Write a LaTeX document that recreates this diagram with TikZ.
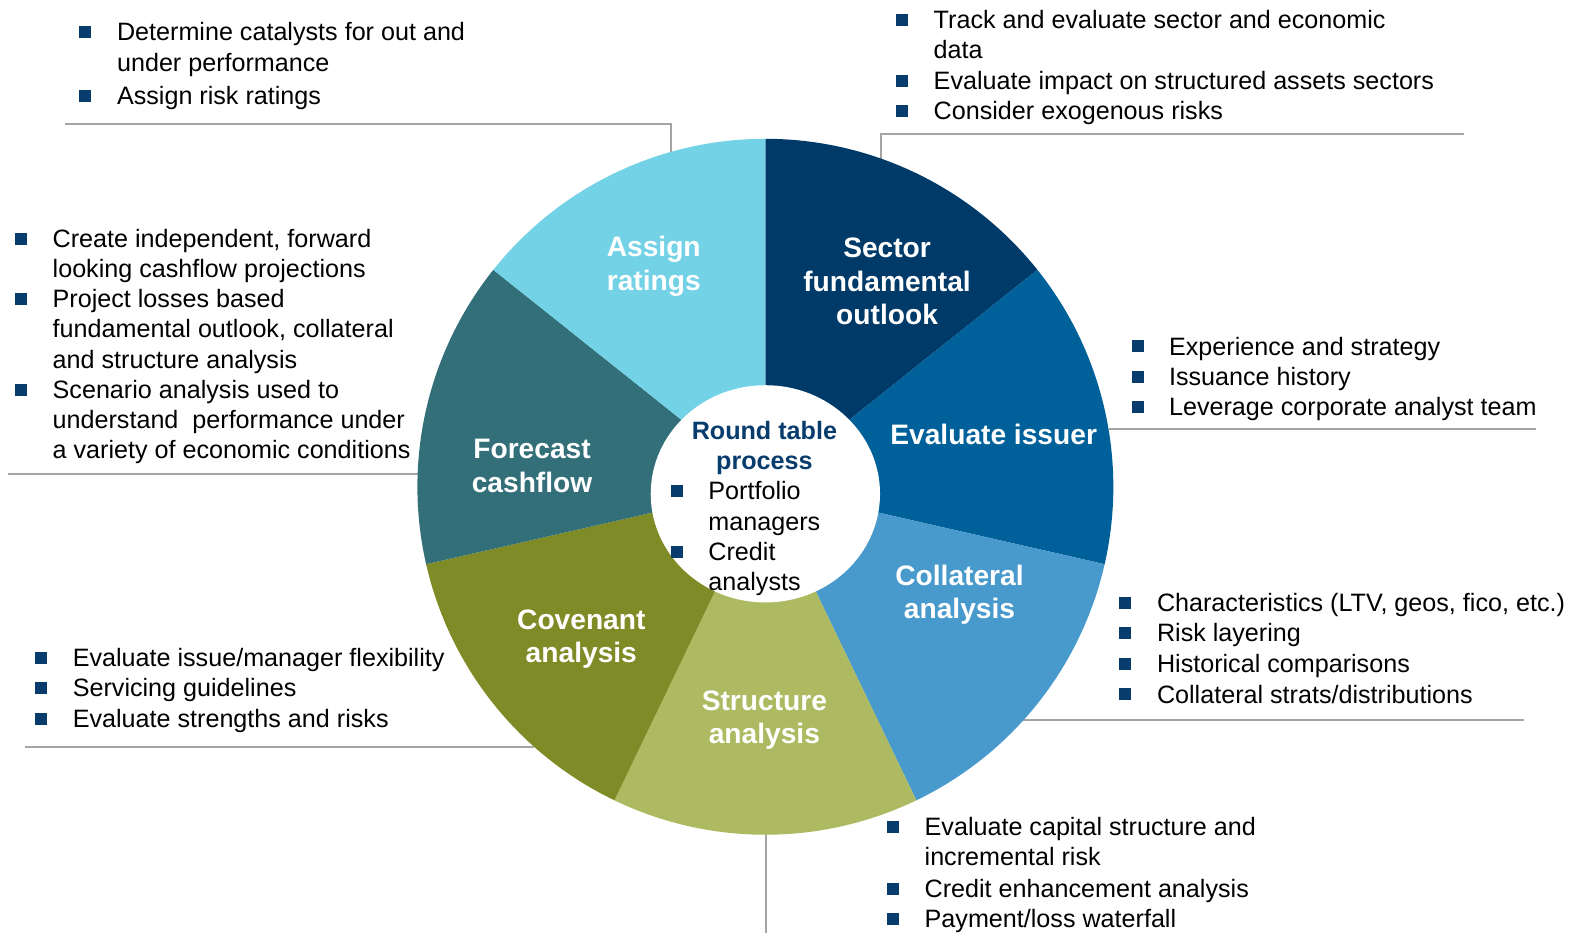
\documentclass[tikz,border=0pt]{standalone}
\usepackage{fontspec}
\setmainfont{Liberation Sans}
\definecolor{csec}{RGB}{0,58,104}
\definecolor{ciss}{RGB}{0,97,154}
\definecolor{ccol}{RGB}{72,153,204}
\definecolor{cstr}{RGB}{173,186,98}
\definecolor{ccov}{RGB}{127,139,38}
\definecolor{cfor}{RGB}{51,111,121}
\definecolor{cass}{RGB}{115,210,230}
\definecolor{navy}{RGB}{8,60,108}
\definecolor{leadgray}{RGB}{165,165,165}
\newcommand\txline[4]{\node[txt] (#1) at (#2,#3) {#4};}
\newcommand\buline[4]{\node[bul] (#1b) at (#2-31,#3-8.5) {};\node[txt] (#1) at (#2,#3) {#4};}
\newcommand\lbline[4]{\node[lbl] (#1) at (#2,#3) {#4};}
\begin{document}
\begin{tikzpicture}[x=0.50287pt,y=-0.50287pt,
  txt/.style={anchor=base west,inner sep=0,font=\fontsize{12.57}{15.1}\selectfont,text=black},
  bul/.style={fill=navy,minimum size=6pt,inner sep=0,draw=none,rectangle},
  lbl/.style={anchor=base,inner sep=0,font=\fontsize{14.08}{16.9}\selectfont\bfseries,text=white},
  ttl/.style={anchor=base,inner sep=0,font=\fontsize{12.57}{15.1}\selectfont\bfseries,text=navy},
  lead/.style={draw=leadgray,line width=1pt}]
\useasboundingbox (0,0) rectangle (1568,928);
% leader lines
\coordinate (a1) at (65,123); \coordinate (a2) at (667,123); \coordinate (a3) at (667,152);
\coordinate (b1) at (876,158); \coordinate (b2) at (876,133); \coordinate (b3) at (1456,133);
\coordinate (c1) at (1103,427); \coordinate (c2) at (1527,427);
\coordinate (d1) at (1017,716); \coordinate (d2) at (1515,716);
\coordinate (e1) at (762,829); \coordinate (e2) at (762,928);
\coordinate (f1) at (25,743); \coordinate (f2) at (531,743);
\coordinate (g1) at (8,471); \coordinate (g2) at (416,471);
\draw[lead] (a1) -- (a2) -- (a3);
\draw[lead] (b1) -- (b2) -- (b3);
\draw[lead] (c1) -- (c2);
\draw[lead] (d1) -- (d2);
\draw[lead] (e1) -- (e2);
\draw[lead] (f1) -- (f2);
\draw[lead] (g1) -- (g2);
% pie
\coordinate (C) at (761,484);
\foreach \s/\e/\c in {90/38.5714/csec, 38.5714/-12.8571/ciss, -12.8571/-64.2857/ccol,
  -64.2857/-115.7143/cstr, -115.7143/-167.1429/ccov, -167.1429/-218.5714/cfor, -218.5714/-270/cass}
  \fill[\c] (C) -- +(-\s:346) arc[start angle=-\s, end angle=-\e, radius=346] -- cycle;
\fill[white] (761,491) ellipse [x radius=114, y radius=108];
% segment labels
\lbline{as1}{650}{255}{Assign}
\lbline{as2}{650}{289}{ratings}
\lbline{se1}{882}{256}{Sector}
\lbline{se2}{882}{290}{fundamental}
\lbline{se3}{882}{323}{outlook}
\lbline{ev1}{988}{442}{Evaluate issuer}
\lbline{co1}{954}{582}{Collateral}
\lbline{co2}{954}{615}{analysis}
\lbline{st1}{760}{706}{Structure}
\lbline{st2}{760}{739}{analysis}
\lbline{cv1}{578}{626}{Covenant}
\lbline{cv2}{578}{659}{analysis}
\lbline{fo1}{529}{456}{Forecast}
\lbline{fo2}{529}{490}{cashflow}
% center
\node[ttl] (ct1) at (760,437) {Round table};
\node[ttl] (ct2) at (760,467) {process};
\buline{cb1}{704}{497}{Portfolio}
\txline{cb2}{704}{527}{managers}
\buline{cb3}{704}{557}{Credit}
\txline{cb4}{704}{587}{analysts}
% top-left
\buline{tl1}{116}{40}{Determine catalysts for out and}
\txline{tl2}{116}{71}{under performance}
\buline{tl3}{116}{104}{Assign risk ratings}
% top-right
\buline{tr1}{928}{28}{Track and evaluate sector and economic}
\txline{tr2}{928}{58}{data}
\buline{tr3}{928}{89}{Evaluate impact on structured assets sectors}
\buline{tr4}{928}{119}{Consider exogenous risks}
% left forecast
\buline{lf1}{52}{246}{Create independent, forward}
\txline{lf2}{52}{276}{looking cashflow projections}
\buline{lf3}{52}{306}{Project losses based}
\txline{lf4}{52}{336}{fundamental outlook, collateral}
\txline{lf5}{52}{366}{and structure analysis}
\buline{lf6}{52}{396}{Scenario analysis used to}
\txline{lf7}{52}{426}{understand\ \ performance under}
\txline{lf8}{52}{456}{a variety of economic conditions}
% right issuer
\buline{ri1}{1162}{353}{Experience and strategy}
\buline{ri2}{1162}{383}{Issuance history}
\buline{ri3}{1162}{413}{Leverage corporate analyst team}
% right collateral
\buline{rc1}{1150}{608}{Characteristics (LTV, geos, fico, etc.)}
\buline{rc2}{1150}{638}{Risk layering}
\buline{rc3}{1150}{669}{Historical comparisons}
\buline{rc4}{1150}{699}{Collateral strats/distributions}
% left covenant
\buline{lc1}{72}{663}{Evaluate issue/manager flexibility}
\buline{lc2}{72}{693}{Servicing guidelines}
\buline{lc3}{72}{723}{Evaluate strengths and risks}
% bottom structure
\buline{bs1}{919}{831}{Evaluate capital structure and}
\txline{bs2}{919}{861}{incremental risk}
\buline{bs3}{919}{892}{Credit enhancement analysis}
\buline{bs4}{919}{922}{Payment/loss waterfall}
\end{tikzpicture}
\end{document}
